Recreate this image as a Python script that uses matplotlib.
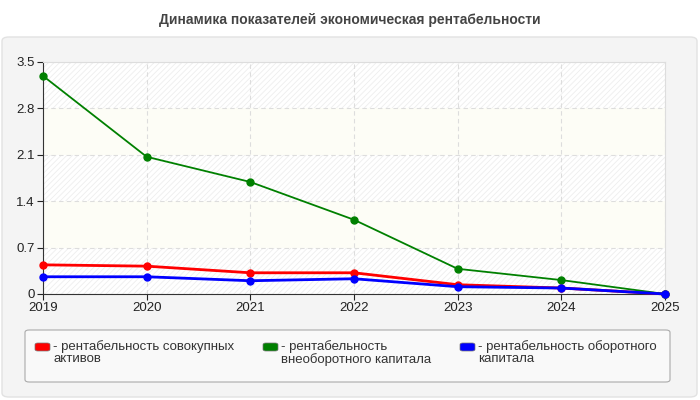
import matplotlib
matplotlib.use("Agg")
import matplotlib.pyplot as plt
from matplotlib.patches import FancyBboxPatch

plt.rcParams['font.family'] = ['Liberation Sans', 'DejaVu Sans']
plt.rcParams['hatch.linewidth'] = 0.6

years = [2019, 2020, 2021, 2022, 2023, 2024, 2025]
assets = [0.44, 0.42, 0.32, 0.32, 0.14, 0.09, 0.0]
noncurrent = [3.29, 2.07, 1.69, 1.12, 0.38, 0.21, 0.0]
current = [0.26, 0.26, 0.20, 0.23, 0.11, 0.09, 0.0]
labels = ["- рентабельность совокупных\nактивов",
          "- рентабельность\nвнеоборотного капитала",
          "- рентабельность оборотного\nкапитала"]
colors = ["#ff0000", "#008000", "#0000ff"]
yticks = [0, 0.7, 1.4, 2.1, 2.8, 3.5]
title = "Динамика показателей экономическая рентабельности"

fig = plt.figure(figsize=(7, 4), dpi=100, facecolor='white')

# grey card behind everything
card = FancyBboxPatch((2/700, 3/400), 695/700, 360/400,
                      boxstyle="round,pad=0,rounding_size=0.01",
                      transform=fig.transFigure, facecolor='#f4f4f4',
                      edgecolor='#e2e2e2', linewidth=1, zorder=-5)
fig.patches.append(card)

fig.text(0.5, 380/400, title, ha='center', va='center', fontsize=10,
         fontweight='bold', color='#444444')

ax = fig.add_axes([43/700, 106/400, 622/700, 232/400])
ax.set_zorder(2)
ax.set_facecolor('white')
ax.set_xlim(years[0], years[-1])
ax.set_ylim(0, 3.5)

# alternating bands
for i in range(len(yticks) - 1):
    lo, hi = yticks[i], yticks[i + 1]
    if i % 2 == 0:
        ax.axhspan(lo, hi, facecolor='white', edgecolor='#eeeeee',
                   hatch='//////', linewidth=0, zorder=0)
    else:
        ax.axhspan(lo, hi, facecolor='#fdfdf6', linewidth=0, zorder=0)

ax.grid(True, color='#dddddd', linestyle=(0, (4, 3)), linewidth=0.8)
ax.set_axisbelow(True)

ax.plot(years, assets, color=colors[0], lw=2.0, marker='o', ms=5, zorder=3, clip_on=False)
ax.plot(years, noncurrent, color=colors[1], lw=1.3, marker='o', ms=5, zorder=3, clip_on=False)
ax.plot(years, current, color=colors[2], lw=2.0, marker='o', ms=5, zorder=4, clip_on=False)

ax.set_xticks(years)
ax.set_yticks(yticks)
ax.set_yticklabels(['0', '0.7', '1.4', '2.1', '2.8', '3.5'])
ax.tick_params(labelsize=9.5, colors='#222222', length=4, width=0.8, pad=2)
for s in ['top', 'right']:
    ax.spines[s].set_color('#dddddd')
for s in ['left', 'bottom']:
    ax.spines[s].set_color('#333333')

# legend box, drawn by hand so the swatch sits on the first line
lbox = FancyBboxPatch((25/700, 18/400), 645/700, 52/400,
                      boxstyle="round,pad=0,rounding_size=0.006",
                      transform=fig.transFigure, facecolor='#f9f9f9',
                      edgecolor='#aaaaaa', linewidth=0.8, zorder=1)
fig.patches.append(lbox)

entry_x = [35, 263, 460]
for x, lab, c in zip(entry_x, labels, colors):
    sw = FancyBboxPatch((x/700, 49/400), 15/700, 8/400,
                        boxstyle="round,pad=0,rounding_size=0.004",
                        transform=fig.transFigure, facecolor=c,
                        edgecolor='#777777', linewidth=0.5, zorder=2)
    fig.patches.append(sw)
    fig.text((x + 18)/700, 60/400, lab, ha='left', va='top', fontsize=9.5,
             color='#333333', linespacing=1.05, zorder=3)

fig.savefig("out.png", dpi=100)
